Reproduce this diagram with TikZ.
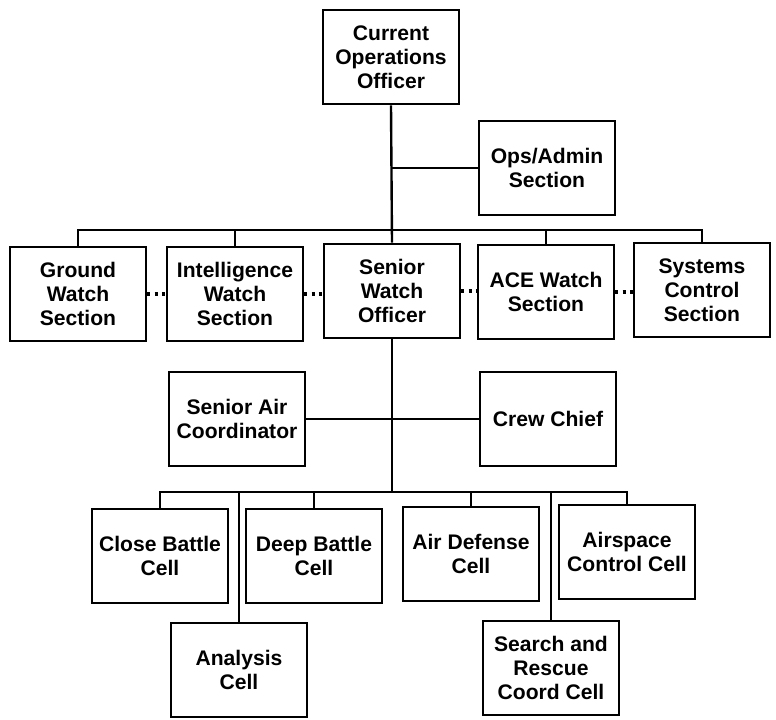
\documentclass[tikz,border=0pt]{standalone}
\usepackage{fontspec}
\setmainfont{Liberation Sans}
\begin{document}
\begin{tikzpicture}[
            x=0.025cm, y=-0.025cm,
            box/.style={draw, line width=1.9pt, minimum width=3.4cm, minimum height=2.35cm,
                    align=center, font=\fontsize{15}{17}\selectfont\bfseries},
            link/.style={line width=1.7pt},
            dotlink/.style={line width=2.2pt, dash pattern=on 2.2pt off 3pt}
        ]
        \useasboundingbox (0,0) rectangle (776,719);
        % top
        \node[box] (coo) at (391,57) {Current\\Operations\\Officer};
        \node[box] (ops) at (547,168) {Ops/Admin\\Section};
        % watch row
        \node[box] (ground) at (78,294) {Ground\\Watch\\Section};
        \node[box] (intel) at (235,294) {Intelligence\\Watch\\Section};
        \node[box] (swo) at (392,291) {Senior\\Watch\\Officer};
        \node[box] (ace) at (546,292) {ACE Watch\\Section};
        \node[box] (sys) at (702,290) {Systems\\Control\\Section};
        % assistants
        \node[box] (sac) at (237,419) {Senior Air\\Coordinator};
        \node[box] (crew) at (548,419) {Crew Chief};
        % cells
        \node[box] (close) at (160,556) {Close Battle\\Cell};
        \node[box] (deep) at (314,556) {Deep Battle\\Cell};
        \node[box] (airdef) at (471,554) {Air Defense\\Cell};
        \node[box] (airsp) at (627,552) {Airspace\\Control Cell};
        \node[box] (analysis) at (239,670) {Analysis\\Cell};
        \node[box] (search) at (551,668) {Search and\\Rescue\\Coord Cell};

        \coordinate (bar1) at (392,230);
        \coordinate (bar2) at (392,492);

        \draw[link] (coo.south) -- (swo.north);
        \draw[link] (ops.west) -- (ops.west -| coo.south);
        \draw[link] (ground.north) |- (bar1) -| (sys.north);
        \draw[link] (intel.north) -- (intel.north |- bar1);
        \draw[link] (ace.north) -- (ace.north |- bar1);
        \draw[dotlink] (ground.east) -- (intel.west);
        \draw[dotlink] (intel.east) -- (intel.east -| swo.west);
        \draw[dotlink] (swo.east) -- (swo.east -| ace.west);
        \draw[dotlink] (ace.east) -- (ace.east -| sys.west);

        \draw[link] (swo.south) -- (bar2);
        \draw[link] (sac.east) -- (crew.west);
        \draw[link] (close.north) |- (bar2) -| (airsp.north);
        \draw[link] (deep.north) -- (deep.north |- bar2);
        \draw[link] (airdef.north) -- (airdef.north |- bar2);
        \draw[link] (analysis.north) -- (analysis.north |- bar2);
        \draw[link] (search.north) -- (search.north |- bar2);
    \end{tikzpicture}
\end{document}
